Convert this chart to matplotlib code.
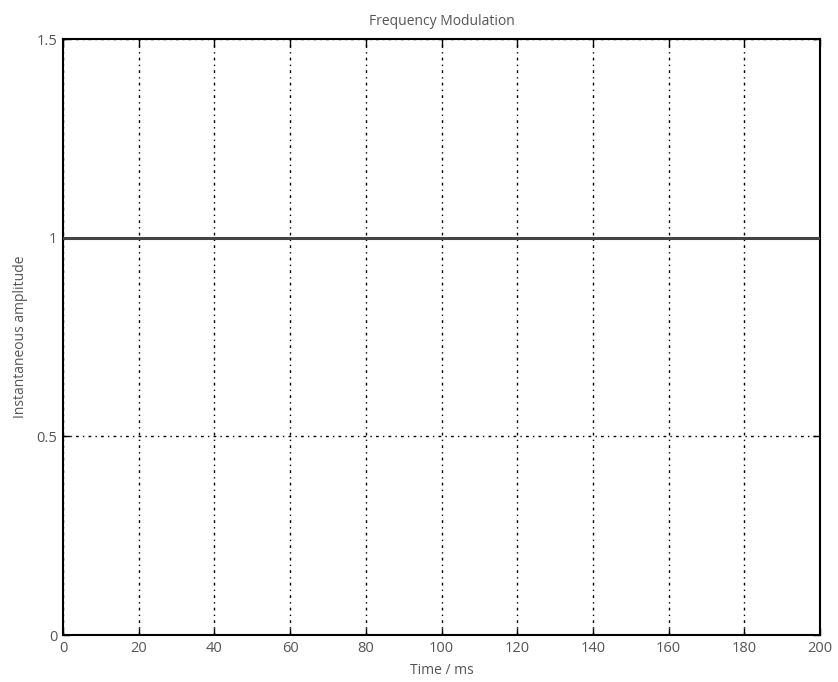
import matplotlib
matplotlib.use('Agg')
import matplotlib.pyplot as plt

# Instantaneous amplitude of the FM signal (flat envelope)
time_ms = [0, 200]
amplitude = [1.0, 1.0]

x_ticks = [0, 20, 40, 60, 80, 100, 120, 140, 160, 180, 200]
y_ticks = [0, 0.5, 1, 1.5]
y_labels = ['0', '0.5', '1', '1.5']

plt.rcParams['font.family'] = ['Open Sans', 'DejaVu Sans']
text_col = '#555555'

fig = plt.figure(figsize=(8.38, 6.82), dpi=100)
ax = fig.add_axes([0.0752, 0.0689, 0.9033, 0.8739])

ax.plot(time_ms, amplitude, color='#444444', linewidth=2.2, zorder=3)

ax.set_xlim(0, 200)
ax.set_ylim(0, 1.5)
ax.set_xticks(x_ticks)
ax.set_yticks(y_ticks)
ax.set_yticklabels(y_labels)
ax.tick_params(direction='in', length=5, width=1, colors='black',
               labelcolor=text_col, labelsize=10.5, pad=4)
ax.tick_params(top=True, right=True)
ax.grid(True, color='black', linestyle=(0, (2, 3, 1, 3)), linewidth=1)
for s in ax.spines.values():
    s.set_linewidth(1.5)

ax.set_xlabel('Time / ms', color=text_col, fontsize=10, labelpad=5)
ax.set_ylabel('Instantaneous amplitude', color=text_col, fontsize=10, labelpad=6)
ax.set_title('Frequency Modulation', color=text_col, fontsize=10, pad=10)

fig.savefig('out.png', dpi=100)
